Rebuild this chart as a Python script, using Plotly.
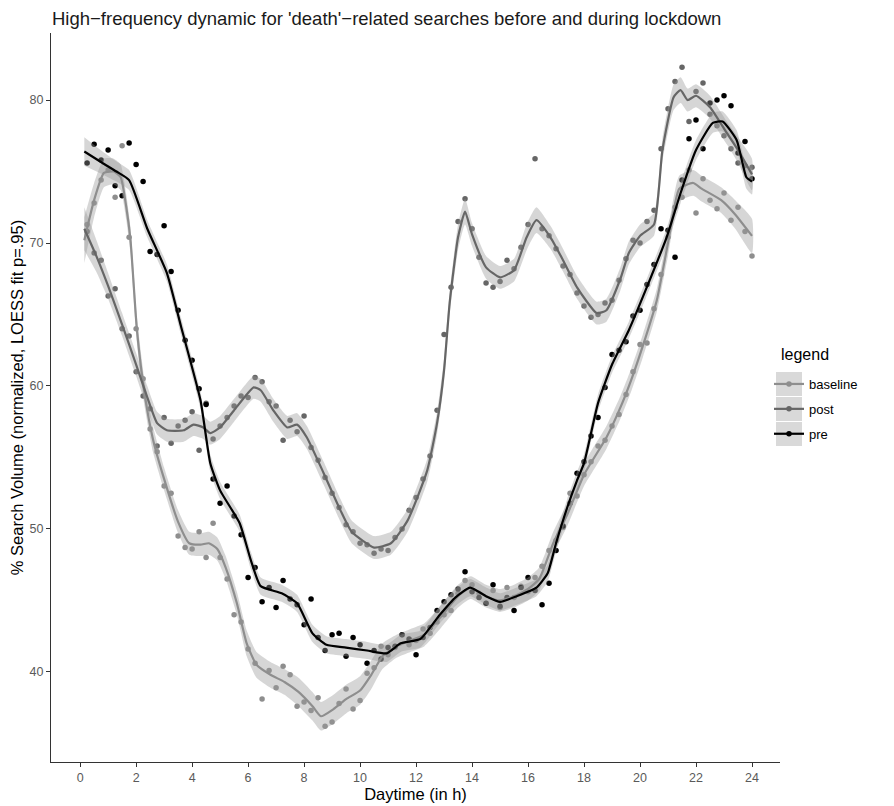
import plotly.graph_objects as go

# sampling grid of the points (quarter hours)
hours = [0.25 * k for k in range(1, 97)]

baseline_pts = [71.3, 72.8, 74.4, 75.1, 73.2, 76.8, 70.4, 64.0, 60.5, 57.0, 55.4, 53.0,
                52.5, 49.5, 48.7, 48.6, 49.8, 48.0, 50.4, 48.0, 46.5, 44.0, 43.5, 41.6,
                40.6, 38.1, 40.1, 38.9, 40.4, 39.8, 37.6, 37.9, 37.3, 38.2, 36.2, 36.5,
                37.8, 38.8, 37.4, 38.0, 39.9, 40.3, 41.8, 41.2, 41.7, 42.6, 41.9, 42.2,
                43.0, 42.7, 43.5, 44.0, 44.3, 45.5, 46.4, 46.1, 45.5, 44.8, 45.7, 44.5,
                45.9, 45.2, 46.0, 45.6, 46.6, 47.4, 48.5, 49.2, 50.1, 52.5, 52.3, 53.8,
                54.7, 55.8, 56.2, 57.2, 58.0, 59.4, 61.0, 62.9, 63.0, 65.4, 67.8, 70.4,
                72.5, 73.2, 75.1, 72.1, 74.5, 73.0, 72.4, 73.5, 71.6, 72.5, 70.8, 69.1]
post_pts = [70.8, 69.3, 68.8, 66.3, 66.8, 64.0, 63.5, 61.0, 59.3, 58.4, 55.8, 57.8,
            56.0, 57.2, 57.6, 58.2, 55.5, 58.8, 56.3, 57.2, 57.8, 58.6, 59.3, 59.2,
            60.6, 60.3, 58.9, 58.6, 56.2, 57.6, 56.8, 57.9, 55.7, 54.8, 53.6, 52.5,
            51.5, 50.3, 49.8, 49.0, 48.9, 48.3, 48.6, 48.5, 49.4, 50.0, 51.3, 52.2,
            53.5, 55.1, 58.3, 63.6, 66.9, 71.5, 73.1, 71.0, 69.0, 67.2, 66.9, 67.3,
            68.8, 68.2, 69.7, 71.3, 75.9, 71.0, 70.5, 69.6, 68.4, 67.8, 66.5, 65.6,
            64.8, 65.0, 65.8, 66.0, 67.4, 68.9, 70.2, 70.0, 71.5, 72.3, 76.6, 79.4,
            81.3, 82.3, 78.5, 80.6, 81.2, 79.0, 78.2, 77.5, 76.6, 75.6, 75.4, 75.3]
pre_pts = [75.6, 76.9, 75.8, 76.5, 74.0, 73.3, 77.0, 75.5, 74.3, 69.4, 69.2, 71.2,
           68.0, 65.3, 63.2, 61.8, 59.8, 58.7, 53.5, 51.8, 53.0, 50.9, 49.6, 46.6,
           47.3, 44.9, 45.9, 44.5, 46.4, 45.1, 44.7, 43.3, 45.1, 42.4, 41.5, 42.6,
           42.7, 41.1, 42.4, 41.9, 40.6, 41.5, 40.9, 41.7, 41.8, 42.6, 42.3, 41.2,
           42.4, 43.1, 44.3, 44.9, 45.4, 45.8, 47.0, 45.6, 45.2, 44.8, 46.1, 44.6,
           45.2, 44.3, 45.9, 46.6, 45.7, 44.7, 46.2, 48.5, 50.2, 51.8, 53.9, 54.7,
           56.5, 57.8, 59.9, 62.2, 62.5, 63.1, 64.9, 65.3, 67.1, 68.5, 71.0, 70.9,
           69.0, 74.4, 77.3, 78.6, 76.6, 79.8, 80.0, 80.3, 79.6, 76.3, 77.1, 74.5]

# LOESS fit
baseline_fit_x = [0.15, 0.5, 0.85, 1.2, 1.45, 1.65, 1.8, 2.03, 2.3, 2.6, 3.0, 3.5, 3.9, 4.3,
                  4.6, 4.9, 5.2, 5.6, 5.95, 6.3, 6.8, 7.3, 7.8, 8.3, 8.6, 9.05, 9.5, 10.0,
                  10.4, 10.8, 11.3, 11.8, 12.3, 12.9, 13.5, 13.95, 14.5, 15.0, 15.5, 16.0,
                  16.4, 16.9, 17.4, 18.0, 18.8, 19.3, 19.7, 20.1, 20.6, 21.0, 21.4, 21.9,
                  22.2, 22.9, 23.4, 24.0]
baseline_fit_y = [70.2, 73.0, 74.9, 75.0, 74.6, 72.5, 70.2, 63.9, 59.5, 56.3, 53.5, 50.5, 49.0, 48.9,
                  49.0, 48.6, 47.3, 44.8, 42.0, 40.5, 39.8, 39.3, 38.6, 37.6, 36.9, 37.4, 38.1, 38.7,
                  39.8, 41.1, 41.8, 42.2, 42.6, 43.9, 45.3, 45.9, 45.3, 45.0, 45.3, 45.8,
                  46.5, 49.0, 51.0, 53.8, 56.4, 58.5, 60.5, 62.8, 66.0, 70.0, 73.8, 74.2,
                  73.8, 73.0, 72.0, 70.5]
baseline_se = [1.6, 1.2, 1.0, 0.9, 0.9, 0.9, 0.9, 0.9, 0.9, 0.9, 0.8, 0.8, 0.8, 0.8,
               0.8, 0.8, 0.8, 0.8, 0.9, 0.9, 0.9, 0.9, 1.0, 1.0, 1.0, 1.0, 1.0, 1.0,
               1.0, 0.9, 0.8, 0.8, 0.8, 0.8, 0.8, 0.8, 0.8, 0.8, 0.8, 0.8,
               0.8, 0.8, 0.8, 0.8, 0.8, 0.8, 0.8, 0.8, 0.8, 0.9, 0.9, 0.9,
               0.9, 0.9, 1.0, 1.2]

post_fit_x = [0.15, 0.6, 1.0, 1.5, 2.0, 2.4, 2.75, 3.1, 3.7, 4.05, 4.4, 4.65, 5.0, 5.5,
              6.2, 6.45, 6.9, 7.4, 7.75, 8.1, 8.7, 9.3, 9.7, 10.5, 11.1, 11.7, 12.4, 12.75,
              13.0, 13.2, 13.5, 13.75, 14.0, 14.5, 15.0, 15.5, 15.95, 16.3, 16.8, 17.25,
              17.75, 18.45, 18.8, 19.3, 19.6, 20.0, 20.5, 20.8, 21.2, 21.45, 21.7, 22.0,
              22.5, 23.1, 23.5, 24.0]
post_fit_y = [71.0, 69.0, 67.0, 64.3, 61.5, 59.2, 57.4, 56.9, 56.9, 57.3, 57.1, 56.7, 57.1, 58.3,
              59.9, 59.7, 58.3, 57.1, 57.3, 56.4, 53.9, 51.3, 49.8, 48.7, 49.0, 50.6, 54.1, 57.4,
              61.1, 65.8, 70.4, 72.2, 70.6, 68.3, 67.6, 68.1, 70.4, 71.6, 70.4, 68.8,
              66.9, 65.1, 65.3, 67.5, 69.3, 70.5, 71.3, 76.5, 80.2, 80.7, 80.0, 80.3,
              79.5, 77.7, 76.5, 74.8]
post_se = [1.5, 1.1, 0.9, 0.8, 0.8, 0.8, 0.8, 0.8, 0.8, 0.8, 0.8, 0.8, 0.8, 0.8,
           0.8, 0.8, 0.8, 0.8, 0.8, 0.8, 0.8, 0.8, 0.8, 0.8, 0.8, 0.8, 0.8, 0.8,
           0.8, 0.8, 0.9, 0.9, 0.8, 0.8, 0.8, 0.8, 0.9, 0.9, 0.8, 0.8,
           0.8, 0.8, 0.8, 0.8, 0.8, 0.8, 0.8, 0.8, 0.9, 0.9, 0.8, 0.8,
           0.8, 0.8, 0.9, 1.1]

pre_fit_x = [0.15, 0.8, 1.3, 1.75, 2.4, 3.1, 3.6, 4.3, 4.65, 5.0, 5.7, 6.1, 6.45, 7.2, 7.75,
             8.3, 8.8, 9.5, 10.25, 10.95, 11.45, 12.15, 12.85, 13.4, 13.93, 14.5, 15.0,
             15.6, 16.3, 16.7, 17.0, 17.4, 17.75, 18.0, 18.5, 19.0, 19.6, 20.2, 20.95,
             21.45, 22.0, 22.6, 22.95, 23.45, 23.8, 24.0]
pre_fit_y = [76.4, 75.6, 75.0, 74.4, 71.0, 67.9, 64.2, 59.0, 54.6, 52.7, 50.4, 47.8, 46.0, 45.5, 44.8,
             42.7, 41.9, 41.7, 41.5, 41.3, 42.0, 42.3, 44.0, 45.2, 45.9, 45.3, 44.9,
             45.3, 45.9, 46.9, 49.0, 51.5, 53.4, 54.6, 58.8, 61.5, 63.9, 66.7, 70.4,
             73.5, 76.5, 78.4, 78.5, 77.2, 74.6, 74.3]
pre_se = [1.0, 0.8, 0.7, 0.7, 0.6, 0.6, 0.6, 0.6, 0.6, 0.6, 0.6, 0.6, 0.6, 0.6, 0.6,
          0.6, 0.6, 0.6, 0.6, 0.6, 0.6, 0.6, 0.6, 0.6, 0.6, 0.6, 0.6,
          0.6, 0.6, 0.6, 0.6, 0.6, 0.6, 0.6, 0.6, 0.6, 0.6, 0.6, 0.6,
          0.7, 0.7, 0.7, 0.7, 0.7, 0.8, 0.9]

series = ['baseline', 'post', 'pre']
colors = {'baseline': '#8e8e8e', 'post': '#666666', 'pre': '#000000'}
points = {'baseline': baseline_pts, 'post': post_pts, 'pre': pre_pts}
fits = {
    'baseline': (baseline_fit_x, baseline_fit_y, baseline_se),
    'post': (post_fit_x, post_fit_y, post_se),
    'pre': (pre_fit_x, pre_fit_y, pre_se),
}

# the page puts the figure 8px in from the corner, so work in screen pixels minus that
OFF = 8
W, H = 894, 806
L, R, T, B = 51 - OFF, 780 - OFF, 33 - OFF, 762 - OFF

fig = go.Figure()

for s in series:
    fig.add_trace(go.Scatter(x=hours, y=points[s], mode='markers',
                             marker=dict(color=colors[s], size=5.5),
                             showlegend=False, hoverinfo='skip'))

for s in series:
    fx, fy, se = fits[s]
    upper = [y + e for y, e in zip(fy, se)]
    lower = [y - e for y, e in zip(fy, se)]
    fig.add_trace(go.Scatter(x=fx + fx[::-1], y=upper + lower[::-1], mode='lines',
                             fill='toself', fillcolor='rgba(153,153,153,0.4)',
                             line=dict(width=0, shape='spline', smoothing=0.5),
                             showlegend=False, hoverinfo='skip'))

for s in series:
    fx, fy, se = fits[s]
    fig.add_trace(go.Scatter(x=fx, y=fy, mode='lines',
                             line=dict(color=colors[s], width=2.2, shape='spline', smoothing=0.5),
                             showlegend=False))

# legend entries
for s in series:
    fig.add_trace(go.Scatter(x=[None], y=[None], mode='lines+markers', name=s,
                             legendgroup=s,
                             line=dict(color=colors[s], width=2.2),
                             marker=dict(color=colors[s], size=5.5)))

# screen pixel -> paper coordinates
def px_x(p):
    return (p - OFF - L) / (R - L)

def px_y(p):
    return (B - (p - OFF)) / (B - T)

# grey legend key boxes
for top in (372, 397, 422):
    fig.add_shape(type='rect', xref='paper', yref='paper',
                  x0=px_x(776), x1=px_x(802), y0=px_y(top + 24), y1=px_y(top),
                  fillcolor='#d9d9d9', line=dict(width=0), layer='below')

fig.add_annotation(text='legend', xref='paper', yref='paper',
                   x=px_x(779), y=px_y(355), xanchor='left', yanchor='middle',
                   showarrow=False, font=dict(size=16, color='#000000'))

axis_common = dict(
    showline=True, linecolor='#333333', linewidth=1.3,
    ticks='outside', ticklen=4, tickcolor='#333333', tickwidth=1,
    showgrid=False, zeroline=False, automargin=False,
    tickfont=dict(size=12.5, color='#5a5a5a'),
)

fig.update_layout(
    width=W, height=H,
    margin=dict(l=L, r=W - R, t=T, b=H - B),
    paper_bgcolor='white', plot_bgcolor='white',
    font=dict(family='Liberation Sans, Arial, sans-serif', color='#000000'),
    title=dict(text="High\u2212frequency dynamic for 'death'\u2212related searches before and during lockdown",
               x=px_x(52), xanchor='left', xref='paper',
               y=1 - (19 - OFF) / H, yanchor='middle', yref='container',
               font=dict(size=18.5, color='#1a1a1a')),
    xaxis=dict(range=[-1.04, 25.0], tickvals=list(range(0, 25, 2)),
               title=dict(text='Daytime (in h)', font=dict(size=16.5), standoff=4),
               **axis_common),
    yaxis=dict(range=[33.7, 84.69], tickvals=[40, 50, 60, 70, 80],
               title=dict(text='% Search Volume (normalized, LOESS fit p=.95)', font=dict(size=16.5),
                          standoff=1),
               **axis_common),
    showlegend=True,
    legend=dict(x=px_x(769), y=px_y(369), xanchor='left', yanchor='top',
                font=dict(size=13), traceorder='grouped', tracegroupgap=5,
                itemwidth=30, bgcolor='rgba(0,0,0,0)', borderwidth=0),
)

fig.write_html("out.html")
